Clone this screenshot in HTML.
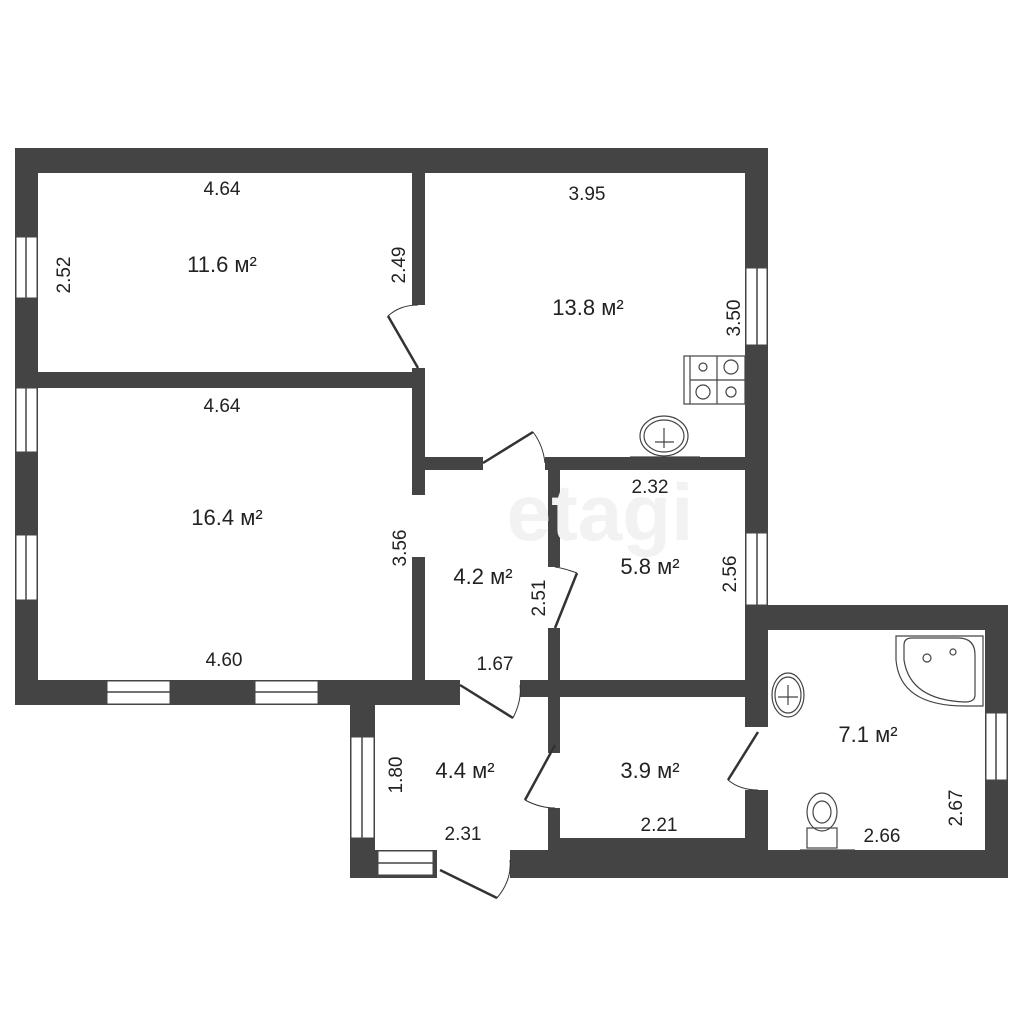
<!DOCTYPE html>
<html><head><meta charset="utf-8"><style>
body{margin:0;background:#fff}
svg{display:block}
text{font-family:"Liberation Sans",sans-serif;font-size:19px;fill:#222}
.a{font-size:22px}
</style></head><body>
<svg width="1024" height="1024" viewBox="0 0 1024 1024">
<g fill="#444">
<!-- outer top -->
<rect x="15" y="148" width="753" height="25"/>
<rect x="15" y="148" width="23" height="557"/>
<rect x="745" y="148" width="23" height="482"/>
<!-- room1/room2 -->
<rect x="38" y="372" width="387" height="16"/>
<rect x="412" y="173" width="13" height="132"/>
<rect x="412" y="368" width="13" height="127"/>
<rect x="412" y="557" width="13" height="130"/>
<!-- kitchen bottom -->
<rect x="425" y="457" width="58" height="13"/>
<rect x="545" y="457" width="200" height="13"/>
<!-- 4.2 / 5.8 wall -->
<rect x="548" y="470" width="12" height="97"/>
<rect x="548" y="628" width="12" height="125"/>
<rect x="548" y="808" width="12" height="42"/>
<!-- bottom of top part -->
<rect x="15" y="680" width="445" height="25"/>
<rect x="400" y="680" width="60" height="17"/>
<rect x="520" y="680" width="248" height="17"/>
<!-- right ext -->
<rect x="745" y="605" width="263" height="25"/>
<rect x="985" y="605" width="23" height="273"/>
<rect x="745" y="605" width="23" height="122"/>
<rect x="745" y="790" width="23" height="88"/>
<!-- bottom -->
<rect x="350" y="850" width="658" height="28"/>
<rect x="548" y="838" width="220" height="15"/>
<rect x="350" y="683" width="25" height="195"/>
</g>
<!-- openings -->
<g fill="#fff">
<rect x="437" y="849" width="73" height="32"/>
</g>
<!-- windows -->
<g fill="#fff" stroke="#444" stroke-width="1">
<rect x="16" y="237" width="21" height="61"/>
<rect x="16" y="388" width="21" height="64"/>
<rect x="16" y="535" width="21" height="65"/>
<rect x="107" y="681" width="63" height="23"/>
<rect x="255" y="681" width="63" height="23"/>
<rect x="746" y="268" width="21" height="77"/>
<rect x="746" y="533" width="21" height="72"/>
<rect x="986" y="713" width="21" height="67"/>
<rect x="351" y="737" width="23" height="101"/>
<rect x="378" y="851" width="55" height="24"/>
</g>
<g stroke="#444" stroke-width="1.5">
<line x1="26" y1="237" x2="26" y2="298"/>
<line x1="26" y1="388" x2="26" y2="452"/>
<line x1="26" y1="535" x2="26" y2="600"/>
<line x1="107" y1="692" x2="170" y2="692"/>
<line x1="255" y1="692" x2="318" y2="692"/>
<line x1="757" y1="268" x2="757" y2="345"/>
<line x1="757" y1="533" x2="757" y2="605"/>
<line x1="996" y1="713" x2="996" y2="780"/>
<line x1="362" y1="737" x2="362" y2="838"/>
<line x1="378" y1="863" x2="433" y2="863"/>
</g>
<!-- doors -->
<g stroke="#333" stroke-width="2.5" fill="none">
<line x1="418" y1="368" x2="388" y2="316"/>
<line x1="483" y1="463" x2="533" y2="432"/>
<line x1="555" y1="628" x2="577" y2="573"/>
<line x1="460" y1="685" x2="513" y2="718"/>
<line x1="555" y1="745" x2="525" y2="800"/>
<line x1="758" y1="732" x2="728" y2="780"/>
<line x1="440" y1="870" x2="497" y2="898"/>
</g>
<g stroke="#333" stroke-width="1" fill="none">
<path d="M388 316 Q400 305 418 305"/>
<path d="M533 432 Q543 445 545 463"/>
<path d="M577 573 Q563 568 555 567"/>
<path d="M513 718 Q522 700 520 685"/>
<path d="M525 800 Q540 808 555 808"/>
<path d="M728 780 Q740 790 758 790"/>
<path d="M497 898 Q512 880 510 860"/>
</g>
<!-- stove -->
<g fill="none" stroke="#444" stroke-width="1.2">
<rect x="684" y="356" width="61" height="48"/>
<line x1="690" y1="356" x2="690" y2="404"/>
<line x1="717" y1="356" x2="717" y2="404"/>
<line x1="690" y1="380" x2="745" y2="380"/>
<circle cx="703" cy="367" r="4"/><circle cx="731" cy="367" r="7"/>
<circle cx="703" cy="392" r="7"/><circle cx="731" cy="392" r="5"/>
<ellipse cx="664" cy="436" rx="24" ry="20"/>
<ellipse cx="664" cy="436" rx="20" ry="16"/>
<line x1="630" y1="457" x2="700" y2="457"/>
<line x1="664" y1="428" x2="664" y2="448"/><line x1="655" y1="442" x2="674" y2="442"/>
<!-- bath -->
<path d="M896 636 H983 V706 H965 Q900 706 896 660 Z"/>
<path d="M904 645 Q904 638 912 638 H958 Q975 638 975 655 V695 Q975 702 965 702 Q910 700 904 660 Z"/>
<circle cx="927" cy="658" r="4"/><circle cx="953" cy="652" r="3"/>
<ellipse cx="788" cy="695" rx="16" ry="22"/>
<ellipse cx="788" cy="695" rx="13" ry="18"/>
<line x1="788" y1="685" x2="788" y2="705"/><line x1="778" y1="697" x2="798" y2="697"/>
<ellipse cx="822" cy="812" rx="15" ry="19"/>
<ellipse cx="822" cy="812" rx="9" ry="11"/>
<rect x="807" y="828" width="30" height="20"/>
<line x1="800" y1="850" x2="855" y2="850"/>
</g>
<text x="600" y="540" font-size="80" style="font-size:80px;fill:#f2f2f2;font-weight:bold" text-anchor="middle">etagi</text>
<!-- labels -->
<text x="222" y="195" text-anchor="middle">4.64</text>
<text class="a" x="222" y="272" text-anchor="middle">11.6 м²</text>
<text x="70" y="275" text-anchor="middle" transform="rotate(-90 70 275)">2.52</text>
<text x="405" y="265" text-anchor="middle" transform="rotate(-90 405 265)">2.49</text>
<text x="587" y="200" text-anchor="middle">3.95</text>
<text class="a" x="588" y="315" text-anchor="middle">13.8 м²</text>
<text x="740" y="318" text-anchor="middle" transform="rotate(-90 740 318)">3.50</text>
<text x="222" y="412" text-anchor="middle">4.64</text>
<text class="a" x="227" y="525" text-anchor="middle">16.4 м²</text>
<text x="406" y="548" text-anchor="middle" transform="rotate(-90 406 548)">3.56</text>
<text x="224" y="666" text-anchor="middle">4.60</text>
<text x="650" y="493" text-anchor="middle">2.32</text>
<text class="a" x="483" y="584" text-anchor="middle">4.2 м²</text>
<text x="545" y="598" text-anchor="middle" transform="rotate(-90 545 598)">2.51</text>
<text class="a" x="650" y="574" text-anchor="middle">5.8 м²</text>
<text x="736" y="574" text-anchor="middle" transform="rotate(-90 736 574)">2.56</text>
<text x="495" y="670" text-anchor="middle">1.67</text>
<text class="a" x="868" y="742" text-anchor="middle">7.1 м²</text>
<text class="a" x="465" y="778" text-anchor="middle">4.4 м²</text>
<text x="402" y="775" text-anchor="middle" transform="rotate(-90 402 775)">1.80</text>
<text x="463" y="840" text-anchor="middle">2.31</text>
<text class="a" x="650" y="778" text-anchor="middle">3.9 м²</text>
<text x="659" y="831" text-anchor="middle">2.21</text>
<text x="882" y="842" text-anchor="middle">2.66</text>
<text x="962" y="808" text-anchor="middle" transform="rotate(-90 962 808)">2.67</text>
</svg>
</body></html>
